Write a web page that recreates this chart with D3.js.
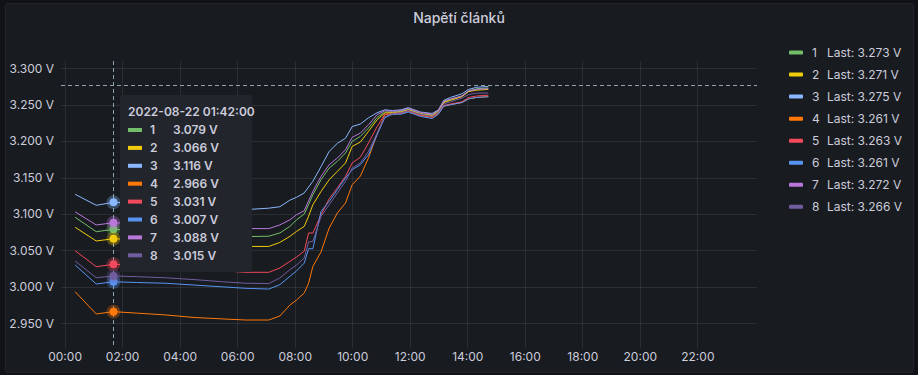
<!DOCTYPE html>
<html>
<head>
<meta charset="utf-8">
<script src="https://cdn.jsdelivr.net/npm/d3@7"></script>
<style>
  body { margin: 0; background: #111217; }
  svg { display: block; font-family: Inter, "Noto Sans", sans-serif; }
</style>
</head>
<body>
<script>
// DATA
var day = "2022-08-22";
var cells = ["1", "2", "3", "4", "5", "6", "7", "8"];
var colors = ["#73bf69", "#f2cc0c", "#8ab8ff", "#ff780a", "#f2495c", "#5794f2", "#b877d9", "#705da0"];

var times = ["00:22", "01:06", "01:42", "02:30", "03:30", "04:30", "05:30", "06:18", "07:06", "07:29",
    "07:50", "08:04", "08:20", "08:29", "08:38", "08:55", "09:12", "09:29", "09:46", "10:00",
    "10:17", "10:34", "10:52", "11:08", "11:24", "11:42", "11:57", "12:22", "12:47", "13:00",
    "13:11", "13:25", "13:49", "14:03", "14:20", "14:44"];

var cell1 = [3.0955, 3.0757, 3.079, 3.078, 3.076, 3.073, 3.071, 3.069, 3.0695, 3.074,
    3.083, 3.092, 3.100, 3.113, 3.1265, 3.1471, 3.1631, 3.1722, 3.1837, 3.1997,
    3.2065, 3.218, 3.2326, 3.240, 3.240, 3.241, 3.244, 3.238, 3.236, 3.2415,
    3.254, 3.257, 3.262, 3.269, 3.272, 3.273];
var cell2 = [3.0818, 3.063, 3.066, 3.065, 3.063, 3.060, 3.058, 3.0555, 3.0555, 3.061,
    3.0693, 3.0762, 3.083, 3.097, 3.1128, 3.131, 3.1471, 3.1585, 3.170, 3.1928,
    3.1988, 3.2134, 3.2294, 3.2386, 3.239, 3.240, 3.243, 3.2375, 3.235, 3.2405,
    3.253, 3.256, 3.261, 3.268, 3.270, 3.271];
var cell3 = [3.127, 3.112, 3.116, 3.115, 3.113, 3.110, 3.108, 3.106, 3.108, 3.110,
    3.119, 3.123, 3.129, 3.137, 3.145, 3.165, 3.186, 3.197, 3.204, 3.220,
    3.2235, 3.232, 3.239, 3.243, 3.242, 3.243, 3.246, 3.240, 3.238, 3.243,
    3.256, 3.260, 3.265, 3.271, 3.274, 3.275];
var cell4 = [2.9934, 2.9628, 2.966, 2.964, 2.9615, 2.958, 2.956, 2.9545, 2.9545, 2.960,
    2.975, 2.982, 2.9916, 3.005, 3.0282, 3.048, 3.0808, 3.1013, 3.1151, 3.1402,
    3.152, 3.177, 3.210, 3.2363, 3.238, 3.2385, 3.241, 3.2355, 3.233, 3.238,
    3.248, 3.250, 3.253, 3.258, 3.260, 3.261];
var cell5 = [3.0497, 3.0277, 3.031, 3.030, 3.028, 3.025, 3.022, 3.020, 3.020, 3.0259,
    3.035, 3.041, 3.049, 3.0739, 3.0739, 3.099, 3.121, 3.1357, 3.1517, 3.170,
    3.178, 3.1975, 3.220, 3.237, 3.237, 3.238, 3.241, 3.2355, 3.233, 3.2385,
    3.249, 3.251, 3.254, 3.260, 3.262, 3.263];
var cell6 = [3.030, 3.004, 3.007, 3.006, 3.005, 3.0025, 3.000, 2.998, 2.997, 3.003,
    3.0144, 3.022, 3.0327, 3.0524, 3.0524, 3.1036, 3.1174, 3.1334, 3.1494, 3.1608,
    3.1677, 3.1814, 3.2088, 3.232, 3.237, 3.237, 3.240, 3.234, 3.231, 3.237,
    3.248, 3.250, 3.253, 3.258, 3.260, 3.261];
var cell7 = [3.103, 3.085, 3.088, 3.087, 3.086, 3.084, 3.082, 3.080, 3.080, 3.085,
    3.092, 3.099, 3.1045, 3.118, 3.131, 3.1517, 3.1677, 3.1768, 3.1883, 3.2052,
    3.2111, 3.2226, 3.2363, 3.2418, 3.241, 3.242, 3.245, 3.2395, 3.237, 3.2425,
    3.255, 3.258, 3.262, 3.269, 3.271, 3.272];
var cell8 = [3.0355, 3.0126, 3.015, 3.014, 3.0125, 3.010, 3.007, 3.005, 3.0045, 3.0122,
    3.0236, 3.030, 3.0396, 3.0616, 3.0625, 3.0968, 3.1128, 3.1288, 3.1448, 3.1631,
    3.170, 3.186, 3.2111, 3.2335, 3.238, 3.239, 3.242, 3.237, 3.234, 3.2395,
    3.251, 3.254, 3.259, 3.264, 3.266, 3.266];

var yTicks = [2.95, 3.00, 3.05, 3.10, 3.15, 3.20, 3.25, 3.30];
var xTickLabels = ["00:00", "02:00", "04:00", "06:00", "08:00", "10:00",
    "12:00", "14:00", "16:00", "18:00", "20:00", "22:00"];
var cursorTime = "01:42";
var cursorValue = 3.2775;

var seriesValues = [cell1, cell2, cell3, cell4, cell5, cell6, cell7, cell8];

// D3
var parse = d3.timeParse("%Y-%m-%d %H:%M");
var svg = d3.select("body")
    .append("svg")
    .attr("width", 918)
    .attr("height", 375);

const plot = {left: 61, right: 757, top: 61, bottom: 348};
const textColor = "#ccccdc";
const gridColor = "rgba(204,204,220,0.10)";

// panel
svg.append("rect")
    .attr("x", 5.5).attr("y", 3.5)
    .attr("width", 908).attr("height", 369)
    .attr("rx", 3)
    .attr("fill", "#181b1f")
    .attr("stroke", "rgba(204,204,220,0.08)");

svg.append("text")
    .attr("x", 459).attr("y", 23)
    .attr("text-anchor", "middle")
    .attr("fill", textColor)
    .attr("font-size", 14)
    .attr("font-weight", 500)
    .text("Napětí článků");

// scales (time range runs a little past the day on both sides)
const xScale = d3.scaleTime()
    .domain([new Date(parse("2022-08-21 23:52").getTime() + 30000),
             new Date(parse("2022-08-23 00:04").getTime() + 30000)])
    .range([plot.left, plot.right]);

const yScale = d3.scaleLinear()
    .domain([2.9161, 3.3100])
    .range([plot.bottom, plot.top]);

var xTicks = xTickLabels.map(t => parse(day + " " + t));

// grid
svg.append("g").selectAll("line").data(yTicks).enter()
    .append("line")
    .attr("x1", plot.left).attr("x2", plot.right)
    .attr("y1", d => Math.round(yScale(d)) + 0.5)
    .attr("y2", d => Math.round(yScale(d)) + 0.5)
    .attr("stroke", gridColor);
svg.append("g").selectAll("line").data(xTicks).enter()
    .append("line")
    .attr("y1", plot.top).attr("y2", plot.bottom)
    .attr("x1", d => Math.round(xScale(d)) + 0.5)
    .attr("x2", d => Math.round(xScale(d)) + 0.5)
    .attr("stroke", gridColor);

// axes
var yAxis = svg.append("g")
    .attr("transform", "translate(" + plot.left + ",0)")
    .call(d3.axisLeft(yScale).tickValues(yTicks).tickSize(0).tickPadding(7)
        .tickFormat(d => d.toFixed(3) + " V"));
var xAxis = svg.append("g")
    .attr("transform", "translate(0," + plot.bottom + ")")
    .call(d3.axisBottom(xScale).tickValues(xTicks).tickSize(0).tickPadding(4)
        .tickFormat(d3.timeFormat("%H:%M")));
[yAxis, xAxis].forEach(function(a) {
    a.select(".domain").remove();
    a.selectAll("text")
        .attr("fill", textColor)
        .attr("font-size", 12)
        .attr("font-family", "Inter, sans-serif");
});

// lines
var parsedTimes = times.map(t => parse(day + " " + t));
var line = d3.line()
    .x((d, i) => xScale(parsedTimes[i]))
    .y(d => yScale(d));

svg.append("g").selectAll("path").data(seriesValues).enter()
    .append("path")
    .attr("d", d => line(d))
    .attr("fill", "none")
    .attr("stroke", (d, i) => colors[i])
    .attr("stroke-width", 1);

// cursor crosshair
var cursorX = Math.round(xScale(parse(day + " " + cursorTime))) + 0.5;
var cursorIdx = times.indexOf(cursorTime);
svg.append("line")
    .attr("x1", cursorX).attr("x2", cursorX)
    .attr("y1", plot.top).attr("y2", plot.bottom)
    .attr("stroke", "#8fa5ad").attr("stroke-dasharray", "4,3");
svg.append("line")
    .attr("x1", plot.left).attr("x2", plot.right)
    .attr("y1", Math.round(yScale(cursorValue)) + 0.5)
    .attr("y2", Math.round(yScale(cursorValue)) + 0.5)
    .attr("stroke", "#8fa5ad").attr("stroke-dasharray", "4,3");

var pts = svg.append("g").selectAll("g").data(seriesValues).enter().append("g");
pts.append("circle")
    .attr("cx", cursorX).attr("cy", d => yScale(d[cursorIdx]))
    .attr("r", 7).attr("fill", (d, i) => colors[i]).attr("opacity", 0.3);
pts.append("circle")
    .attr("cx", cursorX).attr("cy", d => yScale(d[cursorIdx]))
    .attr("r", 4).attr("fill", (d, i) => colors[i]);

// tooltip
var tip = svg.append("g").attr("transform", "translate(120,95)");
tip.append("rect")
    .attr("width", 132).attr("height", 177).attr("rx", 2)
    .attr("fill", "#22252b");
tip.append("text")
    .attr("x", 8).attr("y", 21)
    .attr("fill", textColor).attr("font-size", 12).attr("font-weight", 600)
    .text(d3.timeFormat("%Y-%m-%d %H:%M:%S")(parse(day + " " + cursorTime)));
var rows = tip.selectAll("g.row").data(cells).enter()
    .append("g")
    .attr("transform", (d, i) => "translate(0," + (35 + i * 17.9) + ")");
rows.append("rect")
    .attr("x", 8).attr("y", -2).attr("width", 14).attr("height", 4)
    .attr("fill", (d, i) => colors[i]);
rows.append("text")
    .attr("x", 30).attr("dy", "0.35em")
    .attr("fill", textColor).attr("font-size", 12).attr("font-weight", 600)
    .text(d => d);
rows.append("text")
    .attr("x", 53).attr("dy", "0.35em")
    .attr("fill", textColor).attr("font-size", 12).attr("font-weight", 600)
    .text((d, i) => seriesValues[i][cursorIdx].toFixed(3) + " V");

// legend
var leg = svg.append("g").selectAll("g").data(cells).enter()
    .append("g")
    .attr("transform", (d, i) => "translate(789," + (52.5 + i * 22.05) + ")");
leg.append("rect")
    .attr("y", -2).attr("width", 14).attr("height", 4).attr("rx", 1)
    .attr("fill", (d, i) => colors[i]);
leg.append("text")
    .attr("x", 23).attr("dy", "0.35em")
    .attr("fill", textColor).attr("font-size", 12)
    .text(d => d);
leg.append("text")
    .attr("x", 38).attr("dy", "0.35em")
    .attr("fill", textColor).attr("font-size", 12)
    .text((d, i) => "Last: " + seriesValues[i][seriesValues[i].length - 1].toFixed(3) + " V");
</script>
</body>
</html>
